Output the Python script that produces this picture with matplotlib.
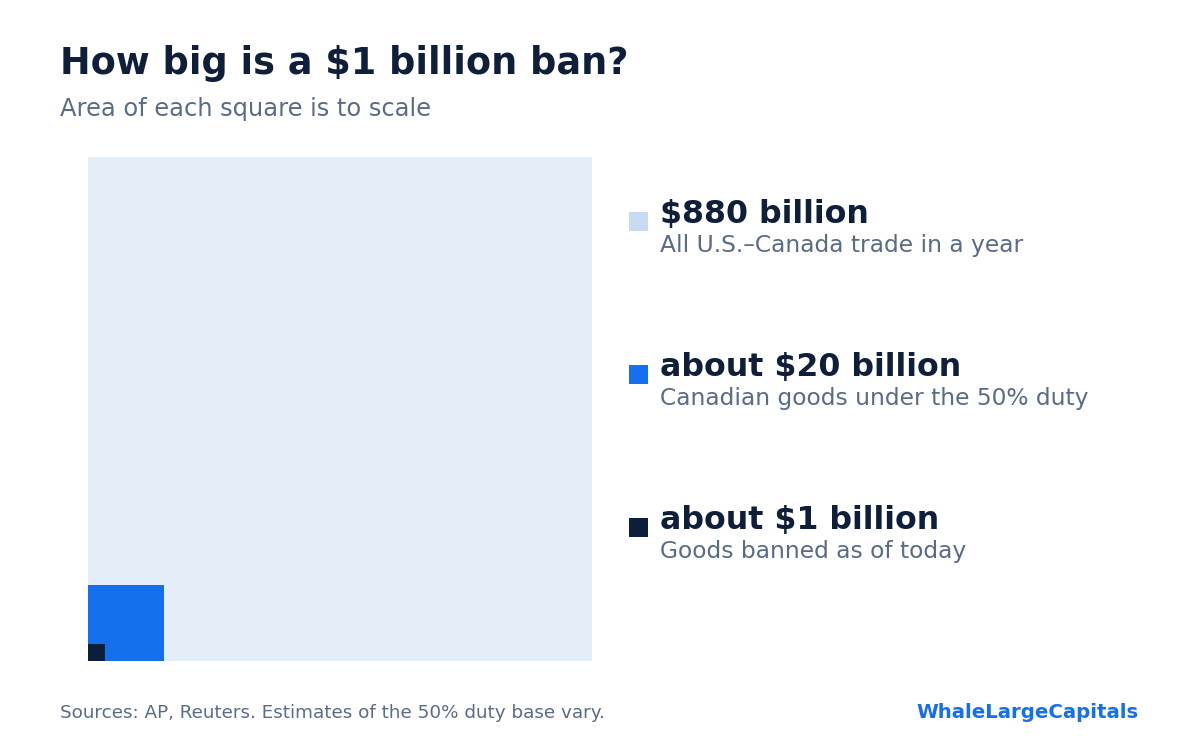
import numpy as np
import matplotlib.pyplot as plt
from matplotlib.patches import Rectangle

# values in billions of dollars
values = [880, 20, 1]
labels = ['$880 billion', 'about $20 billion', 'about $1 billion']
notes = ['All U.S.\u2013Canada trade in a year',
         'Canadian goods under the 50% duty',
         'Goods banned as of today']
colors = ['#c6dbf3', '#1570ef', '#0c1f3a']
fills = ['#e3eef8', '#1570ef', '#0c1f3a']

DARK = '#0f1f3a'
GREY = '#5a6b85'
W, H = 1200, 744

fig = plt.figure(figsize=(12, 7.44), dpi=100)

def fx(px):
    return px / W

def fy(py):
    return 1 - py / H

ax = fig.add_axes([fx(88), fy(661), fx(504), 504 / H])
side_max = np.sqrt(values[0])
for v, c in zip(values, fills):
    s = np.sqrt(v)
    ax.add_patch(Rectangle((0, 0), s, s, facecolor=c, edgecolor='none'))
ax.set_xlim(0, side_max)
ax.set_ylim(0, side_max)
ax.set_axis_off()

# legend-like labels on the right
rows = [221, 374, 527]
for y, lab, note, c in zip(rows, labels, notes, colors):
    sw = fig.add_axes([fx(629), fy(y + 9.5), fx(19), 19 / H])
    sw.add_patch(Rectangle((0, 0), 1, 1, facecolor=c, edgecolor='none'))
    sw.set_xlim(0, 1)
    sw.set_ylim(0, 1)
    sw.set_axis_off()
    fig.text(fx(660), fy(y + 1.5), lab, fontsize=22.8, fontweight='bold',
             color=DARK, va='baseline', ha='left')
    fig.text(fx(660), fy(y + 31), note, fontsize=16.8, color=GREY,
             va='baseline', ha='left')

fig.text(fx(60), fy(73.5), 'How big is a $1 billion ban?', fontsize=26.4,
         fontweight='bold', color=DARK, va='baseline')
fig.text(fx(60), fy(116), 'Area of each square is to scale', fontsize=17.4,
         color=GREY, va='baseline')

fig.text(fx(60), fy(718), 'Sources: AP, Reuters. Estimates of the 50% duty base vary.',
         fontsize=13.25, color=GREY, va='baseline')
fig.text(fx(1139), fy(718), 'WhaleLargeCapitals', fontsize=14.25, fontweight='bold',
         color='#1570ef', va='baseline', ha='right')

fig.savefig('out.png', dpi=100, facecolor='white')
